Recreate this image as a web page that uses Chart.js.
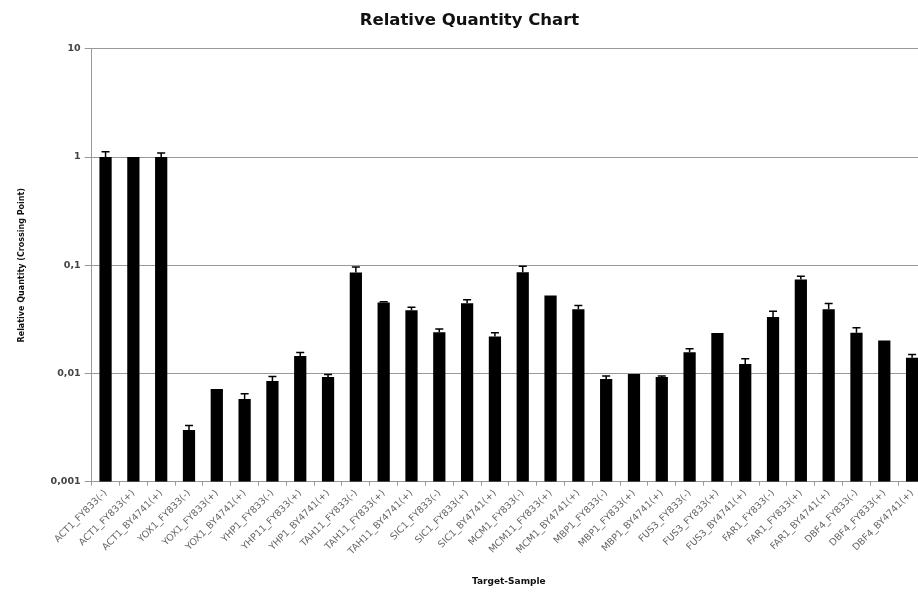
<!DOCTYPE html>
<html>
<head>
<meta charset="utf-8">
<script src="https://cdn.jsdelivr.net/npm/chart.js@4/dist/chart.umd.min.js"></script>
<style>
  body { margin: 0; background: #fff; overflow: hidden; }
  #wrap { width: 936px; height: 601px; position: relative; }
</style>
</head>
<body>
<div id="wrap"><canvas id="qty-chart"></canvas></div>
<script>
// Target-sample categories
const samples = [
  "ACT1_FY833(-)", "ACT1_FY833(+)", "ACT1_BY4741(+)",
  "YOX1_FY833(-)", "YOX1_FY833(+)", "YOX1_BY4741(+)",
  "YHP1_FY833(-)", "YHP11_FY833(+)", "YHP1_BY4741(+)",
  "TAH11_FY833(-)", "TAH11_FY833(+)", "TAH11_BY4741(+)",
  "SIC1_FY833(-)", "SIC1_FY833(+)", "SIC1_BY4741(+)",
  "MCM1_FY833(-)", "MCM11_FY833(+)", "MCM1_BY4741(+)",
  "MBP1_FY833(-)", "MBP1_FY833(+)", "MBP1_BY4741(+)",
  "FUS3_FY833(-)", "FUS3_FY833(+)", "FUS3_BY4741(+)",
  "FAR1_FY833(-)", "FAR1_FY833(+)", "FAR1_BY4741(+)",
  "DBF4_FY833(-)", "DBF4_FY833(+)", "DBF4_BY4741(+)"
];

// Relative quantity per sample
const relQuantity = [
  1.0, 1.0, 1.0,
  0.0030, 0.0072, 0.0058,
  0.0085, 0.0145, 0.0093,
  0.0855, 0.0452, 0.0383,
  0.0241, 0.0445, 0.0220,
  0.0860, 0.0524, 0.0392,
  0.0089, 0.0099, 0.0093,
  0.0157, 0.0236, 0.0122,
  0.0332, 0.0738, 0.0392,
  0.0238, 0.0202, 0.0140
];

// Upper error (added to the value)
const relError = [
  0.12, 0, 0.09,
  0.0003, 0, 0.0007,
  0.0009, 0.0011, 0.0005,
  0.011, 0.0008, 0.0026,
  0.0016, 0.0036, 0.0018,
  0.012, 0, 0.0032,
  0.0006, 0, 0.0002,
  0.0012, 0, 0.0015,
  0.0043, 0.0053, 0.005,
  0.0027, 0, 0.001
];

// Decade ticks on the log axis
const yTickValues = [0.001, 0.01, 0.1, 1, 10];

const FONT = "'DejaVu Sans', sans-serif";

// Draw the error whiskers on top of each bar
const errorBarPlugin = {
  id: "errorBars",
  afterDatasetsDraw(chart) {
    const meta = chart.getDatasetMeta(0);
    const yScale = chart.scales.y;
    const ctx = chart.ctx;
    ctx.save();
    ctx.strokeStyle = "#000";
    ctx.lineWidth = 1.5;
    meta.data.forEach((bar, i) => {
      const err = relError[i];
      if (!err) return;
      const yTop = yScale.getPixelForValue(relQuantity[i] + err);
      ctx.beginPath();
      ctx.moveTo(bar.x, bar.y);
      ctx.lineTo(bar.x, yTop);
      ctx.moveTo(bar.x - 4, yTop);
      ctx.lineTo(bar.x + 4, yTop);
      ctx.stroke();
    });
    ctx.restore();
  },
};

const ctx = document.getElementById("qty-chart").getContext("2d");
new Chart(ctx, {
  type: "bar",
  data: {
    labels: samples,
    datasets: [
      {
        label: "Relative Quantity",
        data: relQuantity,
        backgroundColor: "#000",
        borderWidth: 0,
        barPercentage: 0.44,
        categoryPercentage: 1.0,
      },
    ],
  },
  options: {
    responsive: true,
    maintainAspectRatio: false,
    animation: false,
    layout: { padding: { top: 5, left: 13, right: 10, bottom: 10 } },
    scales: {
      x: {
        grid: {
          display: true,
          drawOnChartArea: false,
          tickLength: 4,
          color: "#999",
        },
        border: { color: "#999" },
        ticks: {
          minRotation: 45,
          maxRotation: 45,
          autoSkip: false,
          color: "#666",
          padding: 2,
          font: { family: FONT, size: 9.5 },
        },
        title: {
          display: true,
          text: "Target-Sample",
          color: "#111",
          padding: { top: 17 },
          font: { family: FONT, size: 9, weight: "bold" },
        },
      },
      y: {
        type: "logarithmic",
        min: 0.001,
        max: 10,
        afterBuildTicks: (scale) => {
          scale.ticks = yTickValues.map((v) => ({ value: v }));
        },
        grid: {
          color: "#999",
          lineWidth: 1,
          tickLength: 7,
        },
        border: { color: "#999" },
        ticks: {
          color: "#444",
          padding: 4,
          font: { family: FONT, size: 9.5, weight: "bold" },
          callback: (value) => String(value).replace(".", ","),
        },
        title: {
          display: true,
          text: "Relative Quantity (Crossing Point)",
          color: "#111",
          padding: { bottom: 20 },
          font: { family: FONT, size: 8, weight: "bold" },
        },
      },
    },
    plugins: {
      legend: { display: false },
      tooltip: { enabled: false },
      title: {
        display: true,
        text: "Relative Quantity Chart",
        color: "#111",
        padding: { top: 6, bottom: 18 },
        font: { family: FONT, size: 16.5, weight: "bold" },
      },
    },
  },
  plugins: [errorBarPlugin],
});
</script>
</body>
</html>
